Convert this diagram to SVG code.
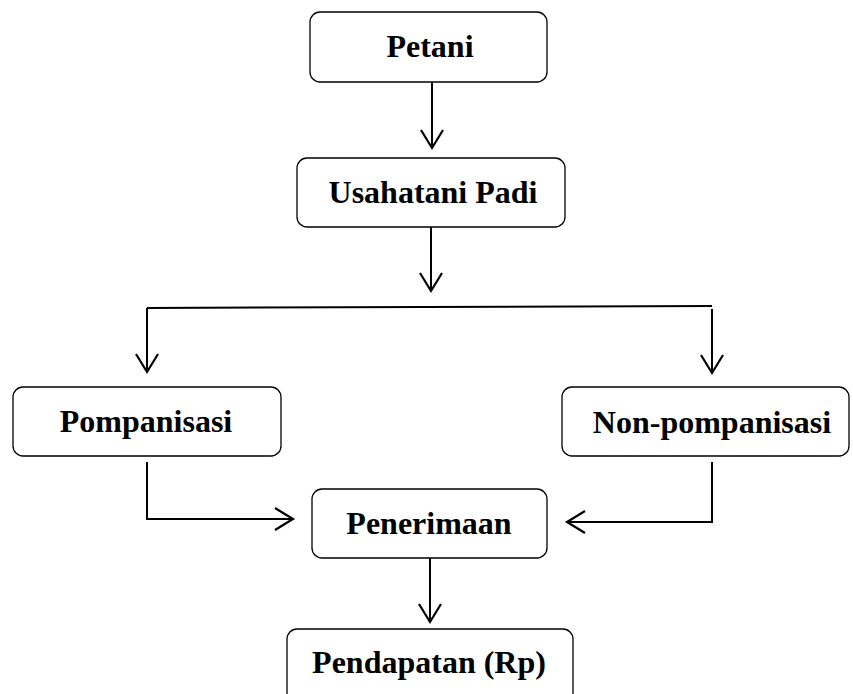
<svg xmlns="http://www.w3.org/2000/svg" width="853" height="694" viewBox="0 0 853 694">
<style>
.box{fill:#fff;stroke:#000;stroke-width:1.3}
.lbl{font-family:"Liberation Serif","Times New Roman",serif;font-weight:bold;font-size:32px;fill:#000;text-anchor:middle}
.con{fill:none;stroke:#000;stroke-width:2}
</style>
<defs>
<marker id="ah" markerUnits="userSpaceOnUse" markerWidth="30" markerHeight="30" viewBox="-20 -15 25 30" refX="0" refY="0" orient="auto" overflow="visible">
<path d="M-18,-11 L0,0 L-18,11" fill="none" stroke="#000" stroke-width="2.2"/>
</marker>
</defs>
<rect width="853" height="694" fill="#fff"/>
<g id="connectors">
<path class="con" d="M432,82 L432,148" marker-end="url(#ah)"/>
<path class="con" d="M431,227 L431,291" marker-end="url(#ah)"/>
<path class="con" d="M147,308 L712,306"/>
<path class="con" d="M147,308 L147,372" marker-end="url(#ah)"/>
<path class="con" d="M712,309 L712,373" marker-end="url(#ah)"/>
<path class="con" d="M147,462 L147,519 L293,519" marker-end="url(#ah)"/>
<path class="con" d="M712,462 L712,522 L567,522" marker-end="url(#ah)"/>
<path class="con" d="M430,558 L430,622" marker-end="url(#ah)"/>
</g>
<g id="petani">
<rect class="box" x="310" y="12" width="237" height="70" rx="10"/>
<text class="lbl" x="430" y="57">Petani</text>
</g>
<g id="usahatani">
<rect class="box" x="297" y="158" width="268" height="69" rx="10"/>
<text class="lbl" x="433" y="203">Usahatani Padi</text>
</g>
<g id="pompanisasi">
<rect class="box" x="13" y="387" width="268" height="69" rx="10"/>
<text class="lbl" x="146" y="432">Pompanisasi</text>
</g>
<g id="non-pompanisasi">
<rect class="box" x="562" y="387" width="287" height="69" rx="10"/>
<text class="lbl" x="712" y="433">Non-pompanisasi</text>
</g>
<g id="penerimaan">
<rect class="box" x="312" y="489" width="235" height="69" rx="10"/>
<text class="lbl" x="429" y="534">Penerimaan</text>
</g>
<g id="pendapatan">
<rect class="box" x="287" y="629" width="286" height="75" rx="10"/>
<text class="lbl" x="429" y="673">Pendapatan (Rp)</text>
</g>
</svg>
